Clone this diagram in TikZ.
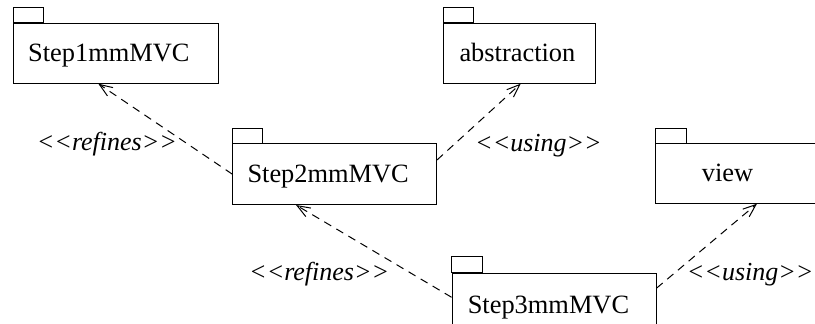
\documentclass[tikz,border=0pt]{standalone}
\usepackage{fontspec}
\setmainfont{Liberation Serif}
\usetikzlibrary{arrows.meta,calc}
\newcommand{\lts}{\mbox{<}\mbox{<}}
\newcommand{\gts}{\mbox{>}\mbox{>}}
\begin{document}
\begin{tikzpicture}[x=1pt,y=-1pt,
  pkgbox/.style={draw, line width=1pt, rectangle, anchor=north west, inner sep=0pt},
  pkgtab/.style={draw, line width=1pt},
  pkgtext/.style={anchor=base west, inner sep=0pt, font=\fontsize{26.4}{30}\selectfont},
  stereo/.style={anchor=base west, inner sep=0pt, font=\fontsize{26}{30}\selectfont\itshape},
  dep/.style={line width=1pt, dash pattern=on 8pt off 6pt, -{Straight Barb[length=13pt,width=10pt]}}
]
\useasboundingbox (0,0) rectangle (815,324);
\clip (0,0) rectangle (815,324);
% packages
\node[pkgbox, minimum width=204.7pt, minimum height=60pt] (s1) at (13,22.7) {};
\draw[pkgtab] (s1.north west) rectangle ++(30.5,-15.3);
\node[pkgtext] (s1t) at ([shift={(15,39)}]s1.north west) {Step1mmMVC};

\node[pkgbox, minimum width=151.7pt, minimum height=60pt] (ab) at (443.3,22.7) {};
\draw[pkgtab] (ab.north west) rectangle ++(30.5,-15.3);
\node[pkgtext] (abt) at ([shift={(16,39)}]ab.north west) {abstraction};

\node[pkgbox, minimum width=203.7pt, minimum height=60.7pt] (s2) at (232.3,143.3) {};
\draw[pkgtab] (s2.north west) rectangle ++(30.5,-15.3);
\node[pkgtext] (s2t) at ([shift={(15,39.4)}]s2.north west) {Step2mmMVC};

\node[pkgbox, minimum width=180pt, minimum height=59.4pt] (vw) at (655,143.3) {};
\draw[pkgtab] (vw.north west) rectangle ++(31,-15.3);
\node[pkgtext] (vwt) at ([shift={(46.7,38.4)}]vw.north west) {view};

\node[pkgbox, minimum width=203.9pt, minimum height=60pt] (s3) at (451.6,272.8) {};
\draw[pkgtab] (s3.north west) rectangle ++(30.5,-16.5);
\node[pkgtext] (s3t) at ([shift={(16,41)}]s3.north west) {Step3mmMVC};

% dependencies
\coordinate (a1e) at ([xshift=85.3pt]s1.south west);
\draw[dep] (s2.west) -- (a1e);
\coordinate (a2s) at ([yshift=-16.7pt]s2.north east);
\coordinate (a2e) at ([xshift=77.4pt]ab.south west);
\draw[dep] (a2s) -- (a2e);
\coordinate (a3s) at ([yshift=-24.5pt]s3.north west);
\coordinate (a3e) at ([xshift=63.7pt]s2.south west);
\draw[dep] (a3s) -- (a3e);
\coordinate (a4s) at ([yshift=-15.4pt]s3.north east);
\coordinate (a4e) at ([xshift=102pt]vw.south west);
\draw[dep] (a4s) -- (a4e);

% stereotypes
\node[stereo] (l1) at (36.7,150) {\lts refines\gts};
\node[stereo] (l2) at (475,151) {\lts using\gts};
\node[stereo] (l3) at (249,280) {\lts refines\gts};
\node[stereo] (l4) at (686.7,280) {\lts using\gts};
\end{tikzpicture}
\end{document}
